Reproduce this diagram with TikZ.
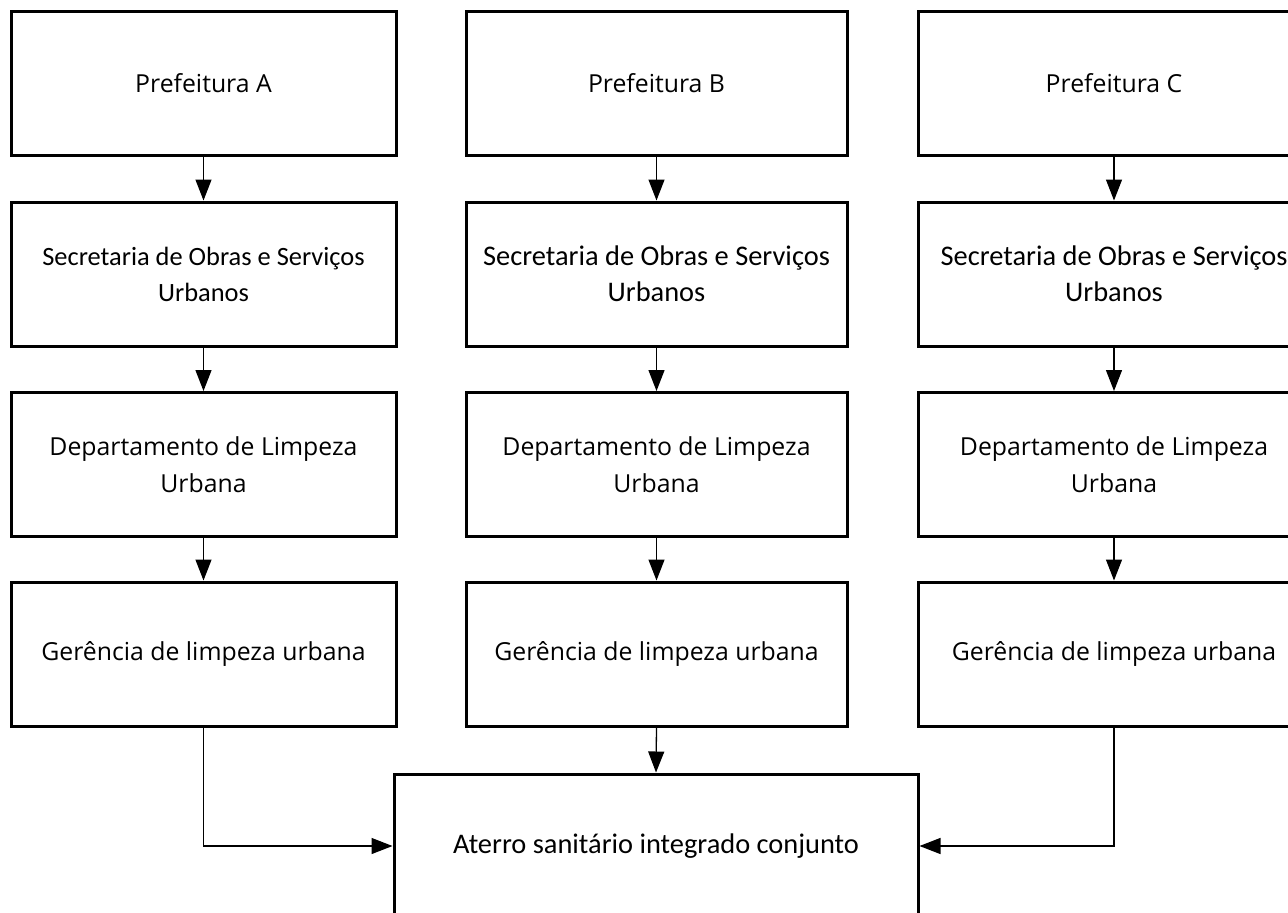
\documentclass[tikz,border=0pt]{standalone}
\usepackage{fontspec}
\setmainfont{Open Sans}
\newfontfamily\calib{Carlito}
\usetikzlibrary{arrows.meta}

\tikzset{
  orgbox/.style={draw, line width=3pt, align=center, inner sep=0pt,
    minimum height=144pt, font=\fontsize{24.8pt}{37pt}\selectfont},
  calbox/.style={orgbox, font=\calib\fontsize{28.4pt}{36pt}\selectfont},
  calsmall/.style={orgbox, font=\calib\fontsize{26.4pt}{36pt}\selectfont},
  link/.style={line width=1.3pt, -{Triangle[length=21pt, width=16pt]}}
}

\begin{document}
\begin{tikzpicture}[x=1pt, y=-1pt]
  \useasboundingbox (0,0) rectangle (1288,913);
  \clip (0,0) rectangle (1288,913);

  % column A
  \node[orgbox, minimum width=385pt] (a1) at (203.5,83.5) {Prefeitura A};
  \node[calsmall, minimum width=385pt] (a2) at (203.5,274) {Secretaria de Obras e Serviços\\Urbanos};
  \node[orgbox, minimum width=385pt] (a3) at (203.5,464.5) {Departamento de Limpeza\\Urbana};
  \node[orgbox, minimum width=385pt] (a4) at (203.5,654) {Gerência de limpeza urbana};

  % column B
  \node[orgbox, minimum width=381pt] (b1) at (656.5,83.5) {Prefeitura B};
  \node[calbox, minimum width=381pt] (b2) at (656.5,274) {Secretaria de Obras e Serviços\\Urbanos};
  \node[orgbox, minimum width=381pt] (b3) at (656.5,464.5) {Departamento de Limpeza\\Urbana};
  \node[orgbox, minimum width=381pt] (b4) at (656.5,654) {Gerência de limpeza urbana};

  % column C
  \node[orgbox, minimum width=392pt] (c1) at (1114,83.5) {Prefeitura C};
  \node[calbox, minimum width=392pt] (c2) at (1114,274) {Secretaria de Obras e Serviços\\Urbanos};
  \node[orgbox, minimum width=392pt] (c3) at (1114,464.5) {Departamento de Limpeza\\Urbana};
  \node[orgbox, minimum width=392pt] (c4) at (1114,654) {Gerência de limpeza urbana};

  % shared landfill
  \node[calbox, minimum width=524pt] (land) at (656,846) {Aterro sanitário integrado conjunto};

  % vertical chains
  \foreach \c in {a,b,c}{
    \draw[link] (\c1.south) -- (\c2.north);
    \draw[link] (\c2.south) -- (\c3.north);
    \draw[link] (\c3.south) -- (\c4.north);
  }

  % links into the landfill
  \draw[link] (a4.south) |- (land.west);
  \draw[link] (b4.south) -- (land.north);
  \draw[link] (c4.south) |- (land.east);
\end{tikzpicture}
\end{document}
